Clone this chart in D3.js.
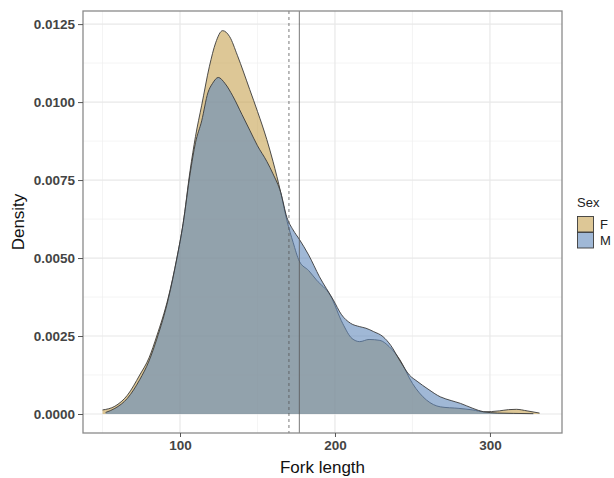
<!DOCTYPE html>
<html>
<head>
<meta charset="utf-8">
<script src="https://cdn.jsdelivr.net/npm/d3@7"></script>
<style>
  body { margin: 0; background: #fff; }
  text { font-family: "Liberation Sans", Arial, sans-serif; }
</style>
</head>
<body>
<div class="chart-container"></div>
<script>
const width = 614;
const height = 478;
const panel = { left: 83, right: 562, top: 11, bottom: 433 };

// density estimates
const fork_f = [50, 58, 66, 74, 80, 85, 92.5, 98, 102, 106.5, 110, 114, 119, 123, 127.5, 132, 137, 145, 150, 156, 160, 165, 169, 173, 177, 183, 188, 197, 205, 211, 216, 222, 229, 235, 242, 250, 259, 268, 280, 289, 296, 306, 312, 317, 324, 332];
const dens_f = [0.00013, 0.00025, 0.0006, 0.00125, 0.0018, 0.0025, 0.00375, 0.005, 0.0061, 0.0078, 0.0089, 0.0099, 0.01115, 0.0119, 0.01229, 0.0121, 0.0115, 0.0104, 0.0097, 0.0088, 0.0081, 0.0071, 0.0062, 0.0055, 0.0049, 0.0046, 0.0043, 0.0038, 0.0029, 0.00242, 0.00232, 0.00239, 0.00236, 0.00216, 0.00173, 0.00098, 0.00045, 0.00023, 0.00018, 0.00013, 0.00007, 0.0001, 0.00014, 0.00015, 0.0001, 0.00003];

const fork_m = [52, 58, 66, 74, 80, 85, 92.5, 98, 102, 106.5, 110, 114, 118, 121, 124.7, 129, 134, 140, 145, 150, 156, 160, 165, 169, 173, 177, 183, 190, 199, 204, 210, 216, 220, 225, 231, 236, 242, 248, 253, 260, 268, 275, 281, 289, 296, 305, 315, 328];
const dens_m = [0.00005, 0.00018, 0.0005, 0.0011, 0.0017, 0.0024, 0.0037, 0.005, 0.0061, 0.0077, 0.0087, 0.0094, 0.0103, 0.0106, 0.01079, 0.0106, 0.0102, 0.0096, 0.0091, 0.0086, 0.0081, 0.0077, 0.0071, 0.0063, 0.0059, 0.0056, 0.0051, 0.0044, 0.00365, 0.0032, 0.00291, 0.0028, 0.00275, 0.00264, 0.00248, 0.0022, 0.0017, 0.00125, 0.00105, 0.0008, 0.00055, 0.00043, 0.00034, 0.00018, 0.00007, 0.00003, 0.00002, 0.00001];

const sexes = ["F", "M"];
const sexColors = ["#c6a250", "#6189bb"];
const xTicks = [100, 200, 300];
const xMinor = [50, 150, 250];
const yTicks = [0, 0.0025, 0.005, 0.0075, 0.01, 0.0125];
const yMinor = [0.00125, 0.00375, 0.00625, 0.00875, 0.01125];
const vlines = [{ x: 170.3, dash: "3,3" }, { x: 177, dash: null }];

const svg = d3.select(".chart-container")
              .append("svg")
              .attr("width", width)
              .attr("height", height);

const escalaX = d3.scaleLinear()
                  .domain([37.4, 346.5])
                  .range([panel.left, panel.right]);

const escalaY = d3.scaleLinear()
                  .domain([-0.000609, 0.01292])
                  .range([panel.bottom, panel.top]);

// grid
const grid = svg.append("g").attr("class", "grid");
grid.selectAll("line.minx")
    .data(xMinor).join("line")
    .attr("x1", escalaX).attr("x2", escalaX)
    .attr("y1", panel.top).attr("y2", panel.bottom)
    .attr("stroke", "#efefef").attr("stroke-width", 0.7);
grid.selectAll("line.miny")
    .data(yMinor).join("line")
    .attr("y1", escalaY).attr("y2", escalaY)
    .attr("x1", panel.left).attr("x2", panel.right)
    .attr("stroke", "#efefef").attr("stroke-width", 0.7);
grid.selectAll("line.majx")
    .data(xTicks).join("line")
    .attr("x1", escalaX).attr("x2", escalaX)
    .attr("y1", panel.top).attr("y2", panel.bottom)
    .attr("stroke", "#e8e8e8").attr("stroke-width", 1.2);
grid.selectAll("line.majy")
    .data(yTicks).join("line")
    .attr("y1", escalaY).attr("y2", escalaY)
    .attr("x1", panel.left).attr("x2", panel.right)
    .attr("stroke", "#e8e8e8").attr("stroke-width", 1.2);

const area = d3.area()
    .curve(d3.curveMonotoneX)
    .x((d) => escalaX(d[0]))
    .y0(escalaY(0))
    .y1((d) => escalaY(d[1]));

const line = d3.line()
    .curve(d3.curveMonotoneX)
    .x((d) => escalaX(d[0]))
    .y((d) => escalaY(d[1]));

const series = [
    d3.zip(fork_f, dens_f),
    d3.zip(fork_m, dens_m)
];

const densities = svg.append("g").attr("class", "densities");
series.forEach((pts, i) => {
    densities.append("path")
        .attr("d", area(pts))
        .attr("fill", sexColors[i])
        .attr("fill-opacity", 0.6);
    densities.append("path")
        .attr("d", line(pts))
        .attr("fill", "none")
        .attr("stroke", "#3a3a3a")
        .attr("stroke-width", 0.9);
});

svg.append("g")
   .selectAll("line")
   .data(vlines).join("line")
   .attr("x1", (d) => escalaX(d.x)).attr("x2", (d) => escalaX(d.x))
   .attr("y1", panel.top).attr("y2", panel.bottom)
   .attr("stroke", "#555")
   .attr("stroke-width", 0.8)
   .attr("stroke-dasharray", (d) => d.dash);

// panel border
svg.append("rect")
   .attr("x", panel.left).attr("y", panel.top)
   .attr("width", panel.right - panel.left)
   .attr("height", panel.bottom - panel.top)
   .attr("fill", "none")
   .attr("stroke", "#8a8a8a")
   .attr("stroke-width", 1.3);

const ejeX = d3.axisBottom(escalaX).tickValues(xTicks).tickSize(4).tickPadding(3);
const ejeY = d3.axisLeft(escalaY).tickValues(yTicks).tickSize(5).tickPadding(3)
               .tickFormat(d3.format(".4f"));

const contenedorEjex = svg.append("g")
    .attr("transform", `translate(0, ${panel.bottom})`)
    .call(ejeX);
const contenedorEjey = svg.append("g")
    .attr("transform", `translate(${panel.left}, 0)`)
    .call(ejeY);

[contenedorEjex, contenedorEjey].forEach((eje) => {
    eje.select(".domain").remove();
    eje.selectAll(".tick line").attr("stroke", "#555");
    eje.selectAll(".tick text")
       .attr("fill", "#444")
       .attr("font-size", 13.5)
       .attr("font-weight", "bold")
       .attr("font-family", "Liberation Sans, Arial, sans-serif");
});

svg.append("text")
   .attr("x", (panel.left + panel.right) / 2)
   .attr("y", 473)
   .attr("text-anchor", "middle")
   .attr("font-size", 17)
   .attr("fill", "#111")
   .text("Fork length");

svg.append("text")
   .attr("transform", `translate(24, ${(panel.top + panel.bottom) / 2}) rotate(-90)`)
   .attr("text-anchor", "middle")
   .attr("font-size", 17)
   .attr("fill", "#111")
   .text("Density");

// legend
const legend = svg.append("g").attr("transform", "translate(577, 0)");
legend.append("text")
      .attr("x", 0).attr("y", 207)
      .attr("font-size", 13)
      .attr("fill", "#222")
      .text("Sex");

const keys = legend.selectAll("g.key")
    .data(sexes).join("g")
    .attr("class", "key")
    .attr("transform", (d, i) => `translate(0, ${216 + i * 16})`);

keys.append("rect")
    .attr("x", 0.5).attr("y", 0.5)
    .attr("width", 16).attr("height", 15.5)
    .attr("fill", "#fff");
keys.append("rect")
    .attr("x", 0.5).attr("y", 0.5)
    .attr("width", 16).attr("height", 15.5)
    .attr("fill", (d, i) => sexColors[i])
    .attr("fill-opacity", 0.6)
    .attr("stroke", "#3a3a3a")
    .attr("stroke-width", 0.9);
keys.append("text")
    .attr("x", 23).attr("y", 13)
    .attr("font-size", 13)
    .attr("fill", "#222")
    .text((d) => d);
</script>
</body>
</html>
